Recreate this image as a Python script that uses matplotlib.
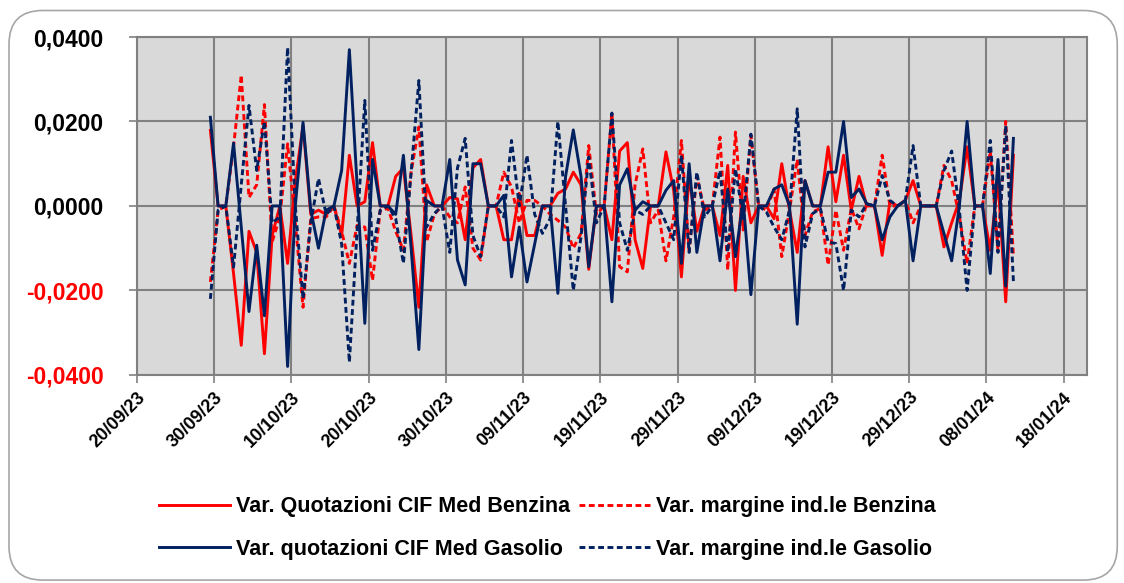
import numpy as np
import pandas as pd
import matplotlib
matplotlib.use("Agg")
import matplotlib.pyplot as plt
import matplotlib.dates as mdates
from matplotlib.patches import FancyBboxPatch
from matplotlib.ticker import FuncFormatter, MultipleLocator

# daily variations, 29/09/23 -> 11/01/24
dates = pd.date_range("2023-09-29 12:00", periods=105, freq="D")

quot_benzina = [
    0.0179, 0, 0, -0.016, -0.033, -0.006, -0.011, -0.035, -0.007, 0, -0.0136, 0.006, 0.019, -0.002, -0.001, -0.002, 0, -0.007,
    0.012, 0, 0.001, 0.015, 0, 0, 0.007, 0.009, -0.007, -0.024, 0.005, 0, 0, 0.002, 0.0017, -0.008, 0.009,
    0.011, 0, 0, -0.008, -0.008, 0.003, -0.007, -0.007, 0, 0, 0.003, 0.004, 0.008, 0.005, -0.015, 0, 0, -0.008,
    0.013, 0.015, -0.008, -0.0148, 0, 0, 0.0128, 0.0037, -0.0168, 0.007, -0.006, 0, 0, -0.007, 0.0096, -0.020, 0.007,
    -0.004, 0, 0, -0.003, 0.010, -0.001, -0.011, 0.006, 0, 0, 0.014, 0.001, 0.012, -0.001, 0.007, 0, 0, -0.0117,
    0.001, 0, 0.0013, 0.006, 0, 0, 0, -0.0097, -0.004, 0.0013, 0.014, 0, 0, -0.0105, 0.006, -0.0227, 0.012,
]
margine_benzina = [
    -0.018, -0.001, 0, 0.014, 0.031, 0.002, 0.005, 0.024, -0.0085, -0.0026, 0.0147, -0.004, -0.024, -0.003, -0.0026, -0.0026, 0, -0.006,
    -0.0136, -0.0046, -0.005, -0.0176, -0.001, -0.0006, -0.006, -0.0105, 0.008, 0.0187, -0.0085, -0.002, 0, -0.0026, -0.004, 0.0045, -0.010,
    -0.0128, 0, 0, 0.008, 0.0045, -0.004, 0.0013, 0.0013, 0, -0.002, -0.0034, -0.005, -0.010, -0.0065, 0.0143, -0.002, 0, 0.022,
    -0.0144, -0.0156, 0.005, 0.0135, -0.004, -0.001, -0.013, -0.0026, 0.0155, -0.0105, 0.007, -0.001, 0, 0.0163, -0.0152, 0.0175, -0.0057,
    0.0167, 0, -0.001, 0.004, -0.012, -0.001, 0.011, -0.007, -0.0014, -0.0006, -0.014, -0.001, -0.0105, -0.0006, -0.0054, 0.0005, 0, 0.012,
    0, 0, 0.0013, -0.004, 0, 0, 0, 0.0096, 0.006, -0.0026, -0.0136, 0, 0, 0.013, -0.0105, 0.020, -0.012,
]
quot_gasolio = [
    0.021, 0, 0, 0.0149, -0.005, -0.025, -0.0093, -0.026, 0, 0, -0.038, 0, 0.0198, -0.001, -0.010, -0.001, 0, 0.0084,
    0.037, 0.005, -0.0278, 0.011, 0, 0, -0.002, 0.012, -0.010, -0.034, 0.0013, 0, 0, 0.011, -0.0128, -0.0187, 0.010,
    0.010, 0, 0, 0.0025, -0.0168, -0.005, -0.018, -0.009, 0, 0, -0.0207, 0.007, 0.018, 0.007, -0.0144, 0, 0, -0.0227,
    0.005, 0.0088, -0.001, 0.001, 0, 0, 0.0037, 0.006, -0.0136, 0.010, -0.011, 0, 0, -0.013, 0.004, -0.012, 0.0013,
    -0.021, 0, 0, 0.004, 0.005, 0, -0.028, 0.006, 0, 0, 0.008, 0.008, 0.020, 0.002, 0.004, 0.0005, 0, -0.008,
    -0.0026, 0, 0.0013, -0.013, 0, 0, 0, -0.0065, -0.013, 0, 0.020, 0, 0, -0.016, 0.011, -0.019, 0.016,
]
margine_gasolio = [
    -0.022, -0.001, 0, -0.0145, 0.005, 0.0238, 0.0084, 0.020, -0.004, -0.0026, 0.0375, 0, -0.022, -0.004, 0.0065, -0.002, 0, -0.009,
    -0.037, -0.006, 0.025, -0.0105, -0.001, 0, -0.003, -0.0136, 0.008, 0.0297, -0.005, -0.0018, 0, -0.011, 0.009, 0.016, -0.007,
    -0.012, 0, 0, -0.0026, 0.0155, 0, 0.012, -0.002, -0.0065, -0.003, 0.020, 0, -0.020, -0.0073, 0.0116, -0.004, 0, 0.022,
    -0.004, -0.0105, -0.001, -0.002, 0, 0, -0.004, -0.008, 0.012, -0.011, 0.008, -0.0026, 0, 0.0084, -0.011, 0.0088, -0.003,
    0.017, 0, -0.0014, -0.005, -0.008, -0.001, 0.023, -0.0097, -0.0018, -0.0006, -0.0085, -0.0089, -0.020, -0.001, -0.0026, 0.0005, 0, 0.0072,
    0.0013, 0, 0.0013, 0.0143, 0, 0, 0, 0.0084, 0.013, -0.001, -0.020, 0, 0, 0.0155, -0.011, 0.019, -0.018,
]

labels = ["Var. Quotazioni CIF Med Benzina", "Var. margine ind.le Benzina",
          "Var. quotazioni CIF Med Gasolio", "Var. margine ind.le Gasolio"]
RED = "#FF0000"
NAVY = "#002060"

plt.rcParams["font.family"] = ["Liberation Sans", "DejaVu Sans"]

fig = plt.figure(figsize=(11.24, 5.83), dpi=100)
ax = fig.add_axes([0.1219, 0.357, 0.845, 0.5795])

# outer rounded frame
frame = FancyBboxPatch((0.008, 0.005), 0.986, 0.977, boxstyle="round,pad=0,rounding_size=0.03",
                       transform=fig.transFigure, fill=False, edgecolor="#a6a6a6", linewidth=1.2,
                       mutation_aspect=1.93)
fig.patches.append(frame)

ax.set_facecolor("#d9d9d9")
lw = 2.1
dash = (0, (2.0, 1.2))
l1, = ax.plot(dates, quot_benzina, color=RED, lw=lw)
l2, = ax.plot(dates, margine_benzina, color=RED, lw=lw, ls=dash)
l3, = ax.plot(dates, quot_gasolio, color=NAVY, lw=lw)
l4, = ax.plot(dates, margine_gasolio, color=NAVY, lw=lw, ls=dash)

ax.set_xlim(pd.Timestamp("2023-09-20"), pd.Timestamp("2024-01-21"))
ax.set_ylim(-0.04, 0.04)
ax.yaxis.set_major_locator(MultipleLocator(0.02))
ax.yaxis.set_major_formatter(FuncFormatter(lambda v, p: f"{v:.4f}".replace(".", ",").replace("-0,0000", "0,0000")))
xt = pd.date_range("2023-09-20", "2024-01-18", freq="10D")
ax.set_xticks(xt)
ax.xaxis.set_major_formatter(mdates.DateFormatter("%d/%m/%y"))

ax.grid(True, color="#808080", lw=1.5)
ax.set_axisbelow(True)
for s in ax.spines.values():
    s.set_color("#808080")
    s.set_linewidth(1.5)
ax.tick_params(axis="both", length=6, color="#808080", width=1.2)
ax.tick_params(axis="y", labelsize=16.5, pad=18)
ax.tick_params(axis="x", labelsize=13, pad=4)

for t in ax.get_yticklabels():
    t.set_fontweight("bold")
    if t.get_text().startswith("-"):
        t.set_color(RED)
for t in ax.get_xticklabels():
    t.set_fontweight("bold")
    t.set_rotation(45)
    t.set_ha("right")
    t.set_rotation_mode("anchor")

# row order: benzina pair on top, gasolio pair below
fig.legend(handles=[l1, l3, l2, l4], labels=[labels[0], labels[2], labels[1], labels[3]],
           ncol=2, loc="center", bbox_to_anchor=(0.487, 0.094), frameon=False,
           handlelength=3.3, columnspacing=0.45, handletextpad=0.25, labelspacing=1.0,
           prop={"weight": "bold", "size": 15.5})

fig.savefig("out.png", dpi=100)
